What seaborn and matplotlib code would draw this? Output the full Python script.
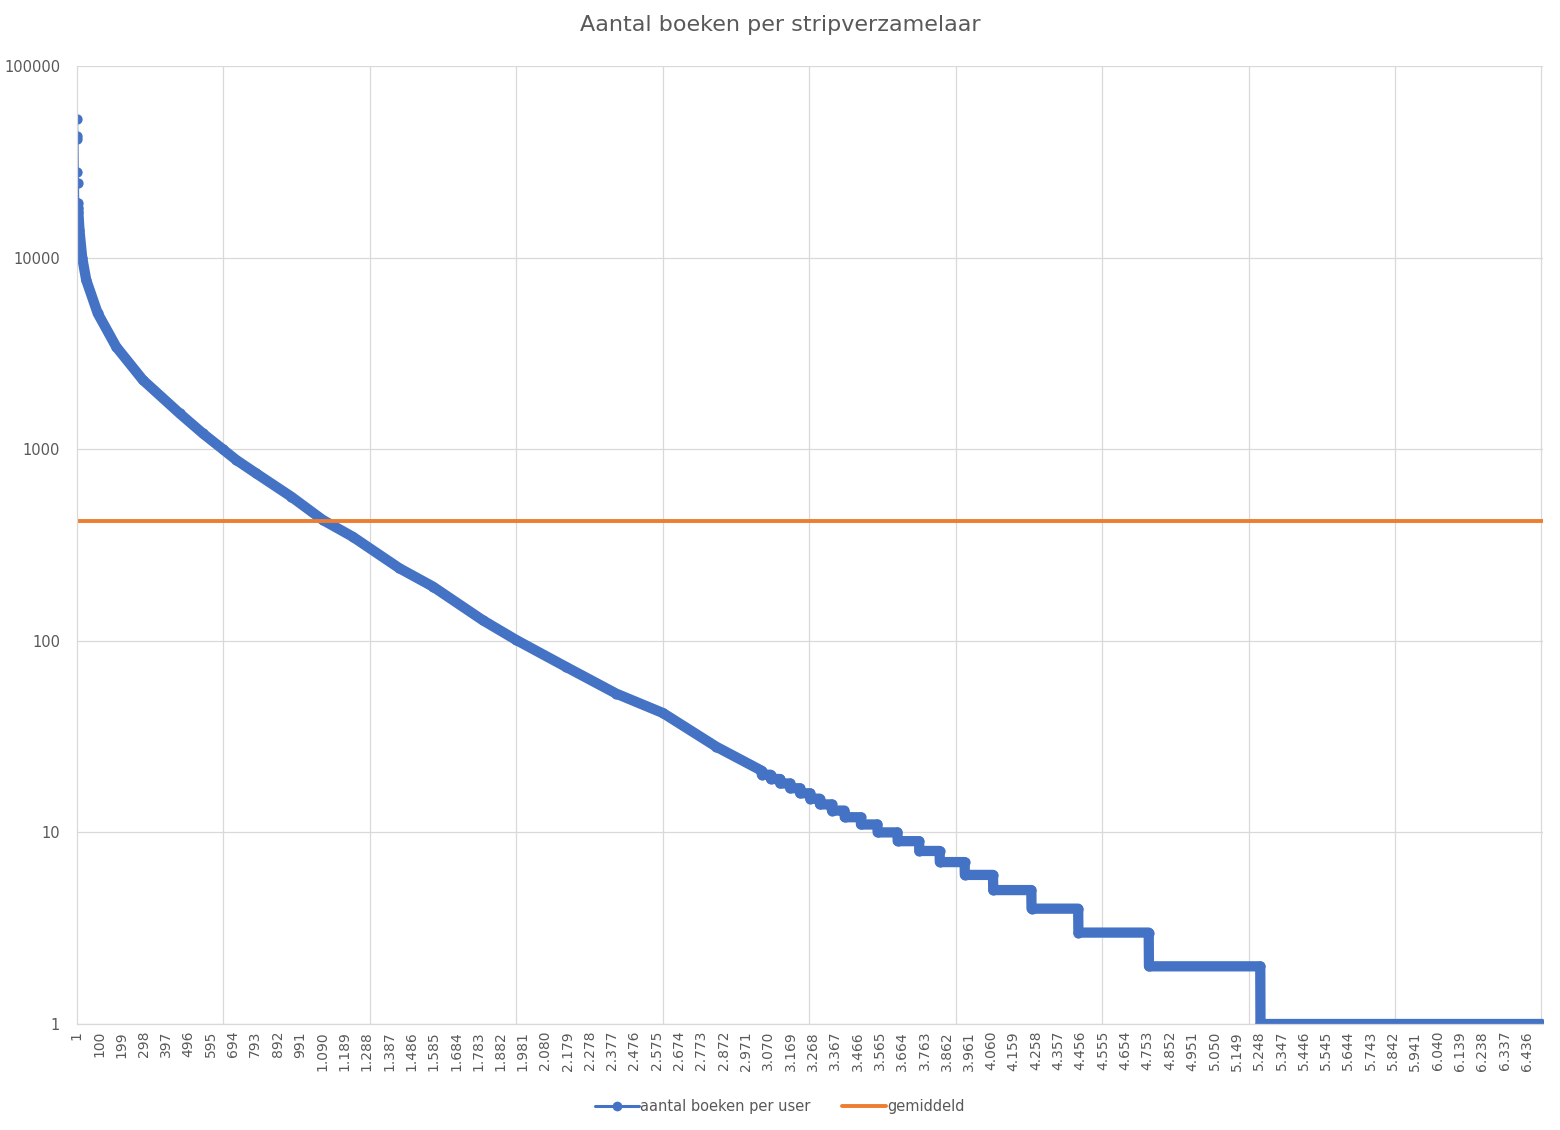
import numpy as np
import pandas as pd
import matplotlib
matplotlib.use("Agg")
import matplotlib.pyplot as plt
import matplotlib.ticker as mticker
from matplotlib.lines import Line2D
import seaborn as sns

# ---------------- Data ----------------

# eerste gebruikers: losse punten bovenaan
rang_top = [1, 2, 3, 4, 5, 6, 7, 8]
boeken_top = [52700, 43000, 41500, 28000, 24500, 19200, 18200, 17300]

# verloop van de curve
rang_curve = [13, 25, 43, 94, 176, 294, 457, 560, 649, 708, 797, 953,
              1093, 1226, 1433, 1581, 1803, 1951, 2173, 2395, 2602, 2839,
              3040]
boeken_curve = [13900, 10000, 7640, 5120, 3425, 2300, 1540, 1210, 1000, 880,
                748, 565, 427, 349, 239, 192, 128, 101, 73, 53, 42, 28,
                21]

# trappen onderaan: waarde en laatste rang van elke trede
trede_waarde = [20, 19, 18, 17, 16, 15, 14, 13, 12, 11, 10, 9, 8, 7, 6, 5,
                4, 3, 2, 1]
trede_einde = [3080, 3122, 3166, 3210, 3255, 3298, 3351, 3408, 3480, 3554,
               3643, 3739, 3830, 3941, 4067, 4237, 4445, 4758, 5253, 6507]

gemiddeld = 420

aantal_users = 6507
label_stap = 99
grid_stap = 650

BLUE = "#4472C4"
ORANGE = "#ED7D31"
GRID = "#D9D9D9"
TEXT = "#595959"

# ---------------- Build table ----------------

trede_rang = []
trede_boeken = []
start = rang_curve[-1] + 1
for waarde, einde in zip(trede_waarde, trede_einde):
    trede_rang += [start, einde]
    trede_boeken += [waarde, waarde]
    start = einde + 1

df = pd.DataFrame({
    "rang": rang_top + rang_curve + trede_rang,
    "boeken": boeken_top + boeken_curve + trede_boeken,
})

df_gem = pd.DataFrame({
    "rang": [1, aantal_users],
    "boeken": [gemiddeld, gemiddeld],
})

# ---------------- Plot ----------------

sns.set_theme(style="white")
plt.rcParams["font.family"] = ["DejaVu Sans"]

fig, ax = plt.subplots(figsize=(15.6, 11.3), dpi=100)
fig.subplots_adjust(left=0.0492, right=0.989, top=0.9416, bottom=0.0938)

# dikke band (dicht opeengepakte markers)
sns.lineplot(
    data=df[df["rang"] >= 6],
    x="rang",
    y="boeken",
    color=BLUE,
    linewidth=7.4,
    solid_capstyle="round",
    solid_joinstyle="round",
    sort=False,
    ax=ax,
    legend=False,
)

# dunne lijn met markers
sns.lineplot(
    data=df,
    x="rang",
    y="boeken",
    color=BLUE,
    linewidth=2.0,
    marker="o",
    markersize=7.4,
    markeredgewidth=0,
    sort=False,
    ax=ax,
    legend=False,
)

sns.lineplot(
    data=df_gem,
    x="rang",
    y="boeken",
    color=ORANGE,
    linewidth=2.8,
    ax=ax,
    legend=False,
)

ax.set_yscale("log")
ax.set_ylim(1, 100000)
ax.set_xlim(1, aantal_users)

ax.yaxis.set_major_locator(mticker.LogLocator(base=10, numticks=10))
ax.yaxis.set_minor_locator(mticker.NullLocator())
ax.yaxis.set_major_formatter(mticker.FuncFormatter(lambda v, p: f"{int(round(v))}"))

x_labels = np.arange(1, aantal_users + 1, label_stap)
ax.set_xticks(x_labels)
ax.set_xticklabels([f"{v:,}".replace(",", ".") for v in x_labels], rotation=90)
ax.set_xticks(np.arange(1 + grid_stap, aantal_users + 1, grid_stap), minor=True)

ax.grid(False)
ax.grid(which="major", axis="y", color=GRID, linewidth=0.9)
ax.grid(which="minor", axis="x", color=GRID, linewidth=0.9)
ax.set_axisbelow(True)

ax.tick_params(axis="x", which="both", length=0, pad=5, labelsize=10, labelcolor=TEXT)
ax.tick_params(axis="y", which="both", length=0, pad=12, labelsize=10.5, labelcolor=TEXT)

for side in ["top", "right"]:
    ax.spines[side].set_visible(False)
for side in ["left", "bottom"]:
    ax.spines[side].set_color(GRID)
    ax.spines[side].set_linewidth(0.9)

ax.set_xlabel("")
ax.set_ylabel("")

fig.suptitle("Aantal boeken per stripverzamelaar", x=0.5, y=1 - 25 / 1130,
             va="center", fontsize=16, color=TEXT)

handles = [
    Line2D([0], [0], color=BLUE, linewidth=2.2, marker="o", markersize=7,
           markeredgewidth=0),
    Line2D([0], [0], color=ORANGE, linewidth=2.8),
]
fig.legend(
    handles,
    ["aantal boeken per user", "gemiddeld"],
    loc="center",
    bbox_to_anchor=(0.5, 1 - 1107 / 1130),
    ncol=2,
    frameon=False,
    fontsize=10.5,
    labelcolor=TEXT,
    handlelength=3,
    handletextpad=0.1,
    columnspacing=2.2,
)

fig.savefig("out.png", dpi=100)
